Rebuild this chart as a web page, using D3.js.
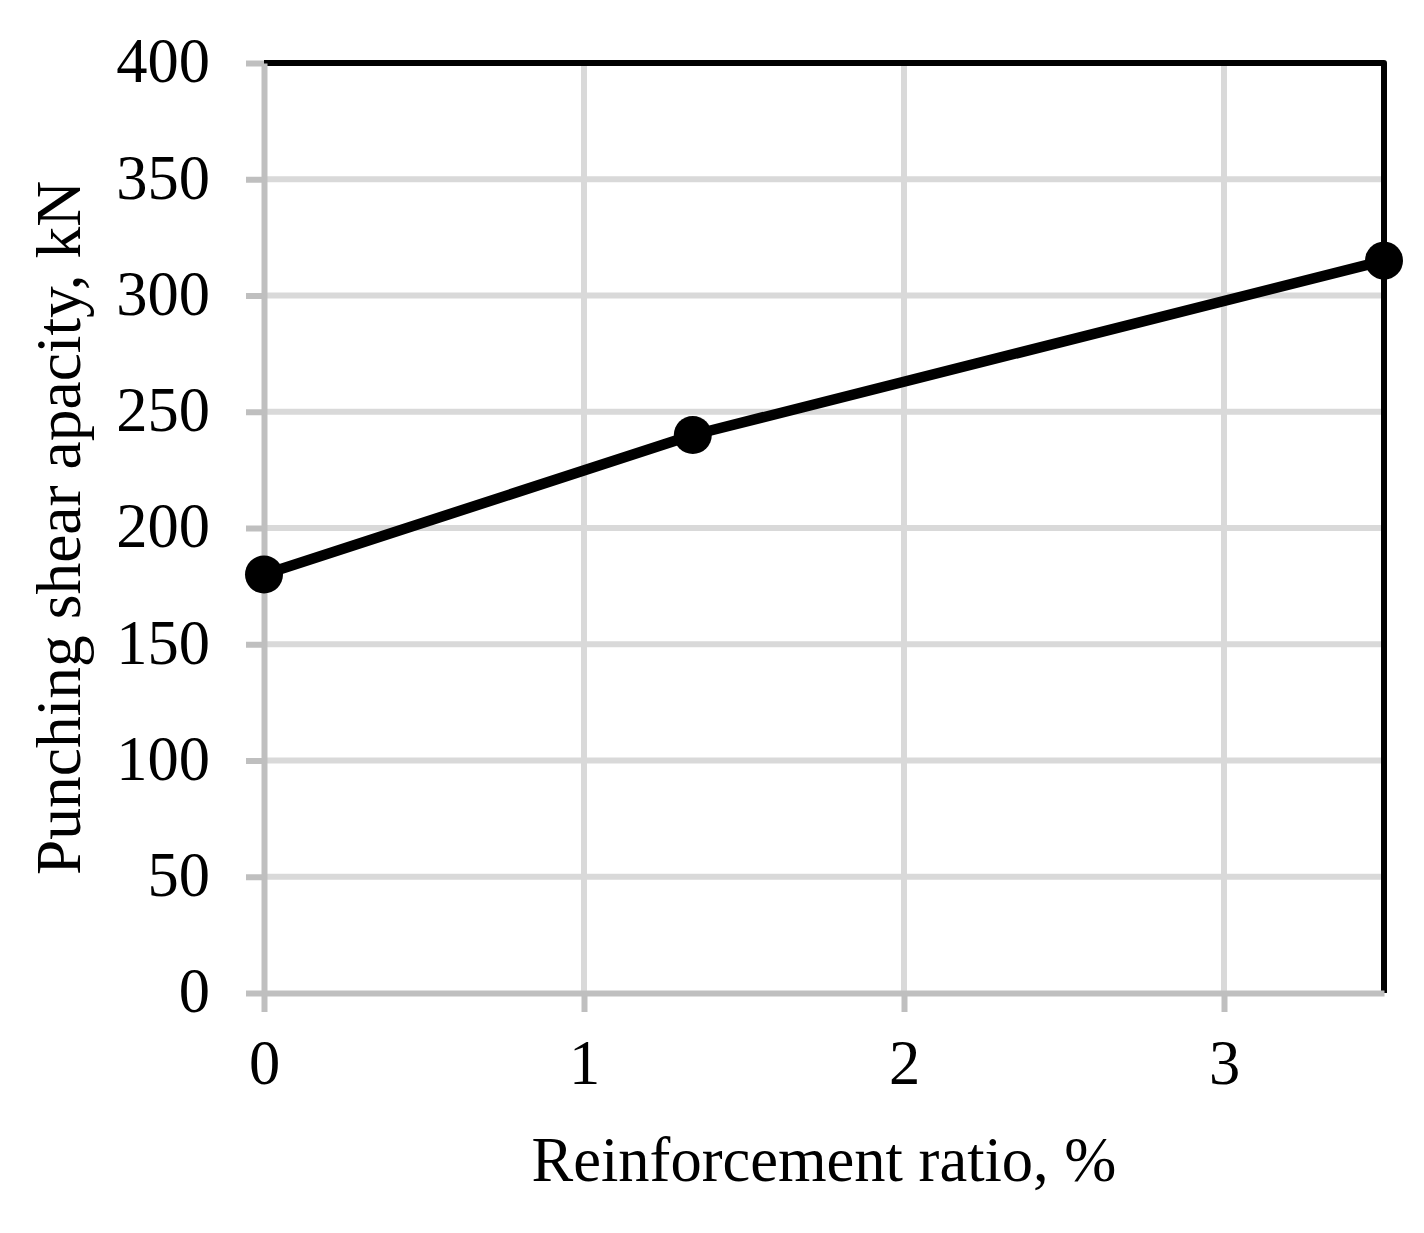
<!DOCTYPE html>
<html>
<head>
<meta charset="utf-8">
<script src="https://cdn.jsdelivr.net/npm/d3@7"></script>
<style>
  html, body { margin: 0; padding: 0; background: #fff; }
  svg { display: block; }
  text { font-family: "Liberation Serif", "Times New Roman", serif; fill: #000; }
</style>
</head>
<body>
<svg id="chart" width="1424" height="1233"></svg>
<script>
// Data
const ratios = [0, 1.34, 3.5];          // Reinforcement ratio, %
const capacities = [180, 240, 315];     // Punching shear capacity, kN
const xTicks = [0, 1, 2, 3];
const yTicks = [0, 50, 100, 150, 200, 250, 300, 350, 400];
const xTitle = "Reinforcement ratio, %";
const yTitle = "Punching shear apacity, kN";

const margin = { left: 264, top: 63 };
const width = 1384 - margin.left;
const height = 993 - margin.top;
const fontSize = "62.5px";

const svg = d3.select("#chart");
const g = svg.append("g").attr("transform", `translate(${margin.left},${margin.top})`);

const x = d3.scaleLinear().domain([0, 3.5]).range([0, width]);
const y = d3.scaleLinear().domain([0, 400]).range([height, 0]);

const gridColor = "#d9d9d9";
const axisColor = "#bfbfbf";

// Gridlines
g.append("g").selectAll("line").data(yTicks.filter(d => d > 0)).join("line")
  .attr("x1", 0).attr("x2", width)
  .attr("y1", d => y(d)).attr("y2", d => y(d))
  .attr("stroke", gridColor).attr("stroke-width", 6);
g.append("g").selectAll("line").data(xTicks.filter(d => d > 0)).join("line")
  .attr("x1", d => x(d)).attr("x2", d => x(d))
  .attr("y1", 0).attr("y2", height)
  .attr("stroke", gridColor).attr("stroke-width", 6);

// Black top/right border
g.append("path")
  .attr("d", `M${x(0)},${y(400)}H${x(3.5)}V${y(0)}`)
  .attr("fill", "none").attr("stroke", "#000").attr("stroke-width", 6)
  .attr("stroke-linejoin", "round");

// Axes
const yAxis = d3.axisLeft(y).tickValues(yTicks).tickSize(18).tickSizeOuter(0).tickPadding(36)
  .tickFormat(d3.format("d"));
const xAxis = d3.axisBottom(x).tickValues(xTicks).tickSize(19).tickSizeOuter(0).tickPadding(28)
  .tickFormat(d3.format("d"));

const gy = g.append("g").call(yAxis);
const gx = g.append("g").attr("transform", `translate(0,${height})`).call(xAxis);

[gy, gx].forEach(a => {
  a.select(".domain").attr("stroke", axisColor).attr("stroke-width", 6);
  a.selectAll(".tick line").attr("stroke", axisColor).attr("stroke-width", 6);
  a.selectAll(".tick text")
    .style("font-family", '"Liberation Serif", "Times New Roman", serif')
    .style("font-size", fontSize).attr("fill", "#000");
});
gy.selectAll(".tick text").attr("dy", "0.3em");

// Line
const line = d3.line().x((d, i) => x(ratios[i])).y(d => y(d));
g.append("path")
  .datum(capacities)
  .attr("d", line)
  .attr("fill", "none").attr("stroke", "#000").attr("stroke-width", 10.5)
  .attr("stroke-linejoin", "round");

// Points
g.append("g").selectAll("circle").data(capacities).join("circle")
  .attr("cx", (d, i) => x(ratios[i]))
  .attr("cy", d => y(d))
  .attr("r", 19)
  .attr("fill", "#000");

// Titles
svg.append("text")
  .attr("x", margin.left + width / 2)
  .attr("y", 1181)
  .attr("text-anchor", "middle")
  .style("font-size", fontSize)
  .text(xTitle);

svg.append("text")
  .attr("transform", `translate(80,${margin.top + height / 2}) rotate(-90)`)
  .attr("text-anchor", "middle")
  .style("font-size", "63.5px")
  .text(yTitle);
</script>
</body>
</html>
